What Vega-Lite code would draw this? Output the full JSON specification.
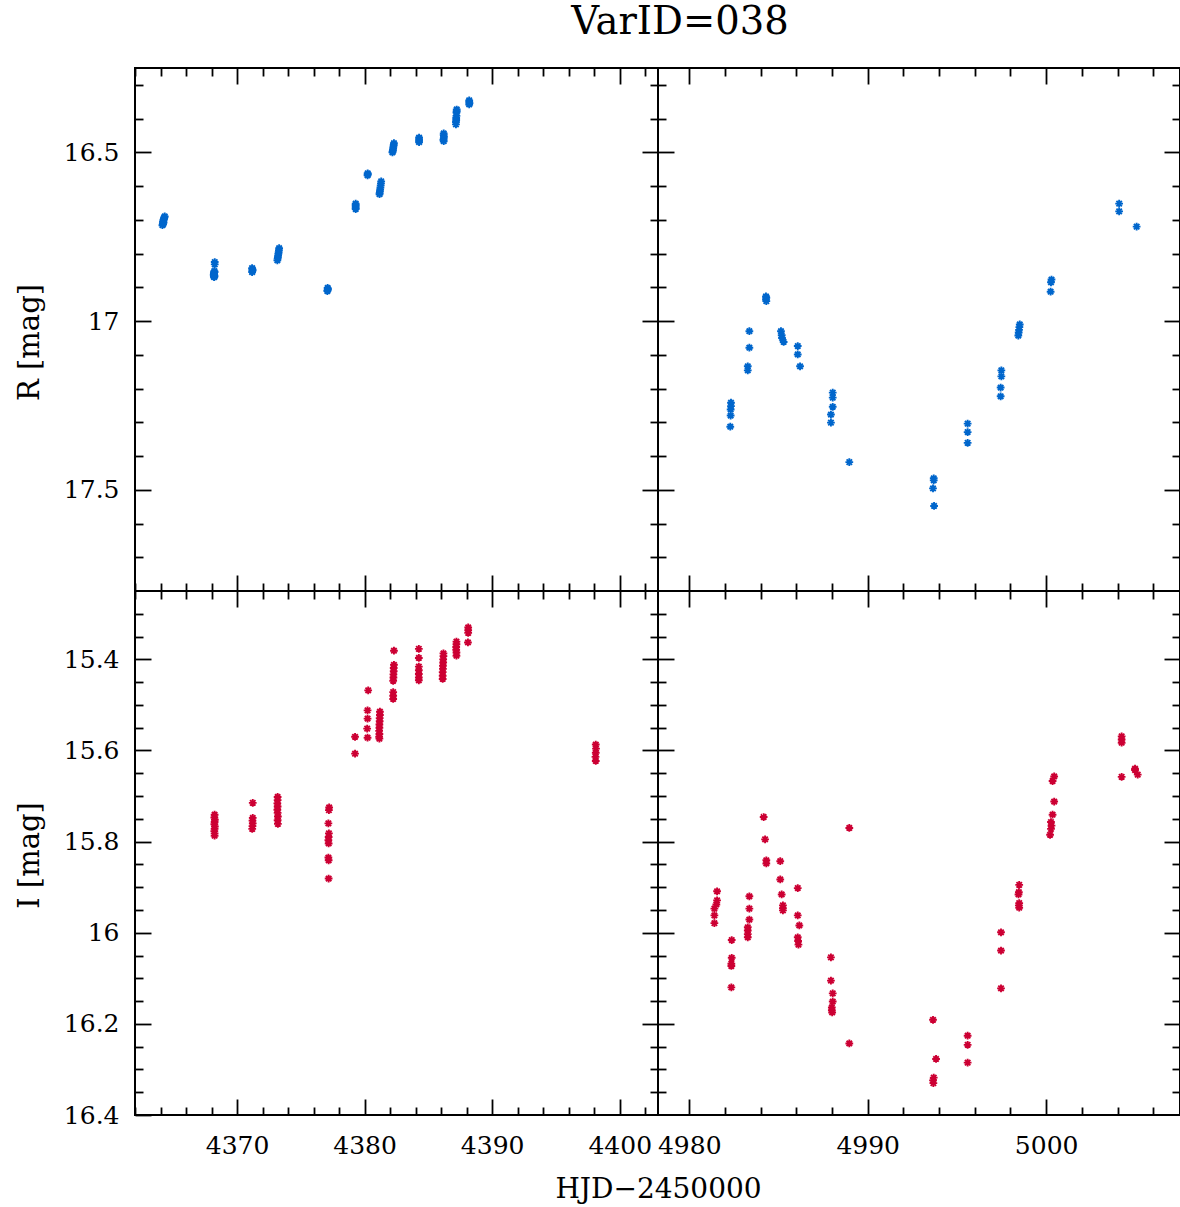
{
  "$schema": "https://vega.github.io/schema/vega-lite/v6.json",
  "background": "white",
  "padding": {"left": 14, "top": 2, "right": 0, "bottom": 5},
  "title": {"text": "VarID=038", "font": "DejaVu Serif", "fontSize": 38.5, "fontWeight": "normal", "color": "black", "anchor": "middle", "dx": 82, "offset": -6, "baseline": "alphabetic"},
  "columns": 2,
  "spacing": 0,
  "bounds": "flush",
  "datasets": {
    "r": [
      {"hjd": 4364.15, "mag": 16.716}, {"hjd": 4364.18, "mag": 16.711}, {"hjd": 4364.2, "mag": 16.706}, {"hjd": 4364.22, "mag": 16.702}, {"hjd": 4364.25, "mag": 16.699}, {"hjd": 4364.28, "mag": 16.696}, {"hjd": 4364.3, "mag": 16.693}, {"hjd": 4364.33, "mag": 16.69}, {"hjd": 4364.24, "mag": 16.708}, {"hjd": 4364.19, "mag": 16.713},
      {"hjd": 4368.25, "mag": 16.825}, {"hjd": 4368.25, "mag": 16.832}, {"hjd": 4368.22, "mag": 16.852}, {"hjd": 4368.2, "mag": 16.856}, {"hjd": 4368.18, "mag": 16.859}, {"hjd": 4368.2, "mag": 16.862}, {"hjd": 4368.22, "mag": 16.865}, {"hjd": 4368.18, "mag": 16.867}, {"hjd": 4368.2, "mag": 16.87}, {"hjd": 4368.24, "mag": 16.855}, {"hjd": 4368.17, "mag": 16.863}, {"hjd": 4368.23, "mag": 16.868},
      {"hjd": 4371.18, "mag": 16.843}, {"hjd": 4371.2, "mag": 16.846}, {"hjd": 4371.22, "mag": 16.849}, {"hjd": 4371.2, "mag": 16.852}, {"hjd": 4371.18, "mag": 16.855},
      {"hjd": 4373.3, "mag": 16.784}, {"hjd": 4373.28, "mag": 16.79}, {"hjd": 4373.26, "mag": 16.796}, {"hjd": 4373.24, "mag": 16.801}, {"hjd": 4373.22, "mag": 16.806}, {"hjd": 4373.2, "mag": 16.811}, {"hjd": 4373.18, "mag": 16.815}, {"hjd": 4373.16, "mag": 16.82},
      {"hjd": 4377.1, "mag": 16.902}, {"hjd": 4377.12, "mag": 16.905}, {"hjd": 4377.1, "mag": 16.908}, {"hjd": 4377.08, "mag": 16.911},
      {"hjd": 4379.3, "mag": 16.652}, {"hjd": 4379.3, "mag": 16.656}, {"hjd": 4379.3, "mag": 16.66}, {"hjd": 4379.3, "mag": 16.664}, {"hjd": 4379.3, "mag": 16.668},
      {"hjd": 4380.24, "mag": 16.562}, {"hjd": 4380.25, "mag": 16.565}, {"hjd": 4380.23, "mag": 16.568},
      {"hjd": 4381.3, "mag": 16.586}, {"hjd": 4381.28, "mag": 16.592}, {"hjd": 4381.26, "mag": 16.598}, {"hjd": 4381.24, "mag": 16.604}, {"hjd": 4381.22, "mag": 16.61}, {"hjd": 4381.2, "mag": 16.615}, {"hjd": 4381.18, "mag": 16.62}, {"hjd": 4381.17, "mag": 16.624},
      {"hjd": 4382.3, "mag": 16.473}, {"hjd": 4382.28, "mag": 16.478}, {"hjd": 4382.26, "mag": 16.483}, {"hjd": 4382.24, "mag": 16.488}, {"hjd": 4382.22, "mag": 16.493}, {"hjd": 4382.2, "mag": 16.497}, {"hjd": 4382.18, "mag": 16.5},
      {"hjd": 4384.27, "mag": 16.456}, {"hjd": 4384.27, "mag": 16.461}, {"hjd": 4384.27, "mag": 16.466}, {"hjd": 4384.27, "mag": 16.47},
      {"hjd": 4386.2, "mag": 16.444}, {"hjd": 4386.2, "mag": 16.449}, {"hjd": 4386.22, "mag": 16.454}, {"hjd": 4386.2, "mag": 16.459}, {"hjd": 4386.18, "mag": 16.463}, {"hjd": 4386.2, "mag": 16.467},
      {"hjd": 4387.22, "mag": 16.373}, {"hjd": 4387.22, "mag": 16.378}, {"hjd": 4387.2, "mag": 16.382}, {"hjd": 4387.2, "mag": 16.392}, {"hjd": 4387.18, "mag": 16.398}, {"hjd": 4387.18, "mag": 16.404}, {"hjd": 4387.16, "mag": 16.41}, {"hjd": 4387.16, "mag": 16.417},
      {"hjd": 4388.2, "mag": 16.346}, {"hjd": 4388.2, "mag": 16.35}, {"hjd": 4388.22, "mag": 16.354}, {"hjd": 4388.2, "mag": 16.358},
      {"hjd": 4982.34, "mag": 17.242}, {"hjd": 4982.34, "mag": 17.252}, {"hjd": 4982.32, "mag": 17.262}, {"hjd": 4982.32, "mag": 17.28}, {"hjd": 4982.3, "mag": 17.313},
      {"hjd": 4983.37, "mag": 17.03}, {"hjd": 4983.37, "mag": 17.079}, {"hjd": 4983.28, "mag": 17.134}, {"hjd": 4983.28, "mag": 17.146},
      {"hjd": 4984.3, "mag": 16.927}, {"hjd": 4984.32, "mag": 16.931}, {"hjd": 4984.3, "mag": 16.936}, {"hjd": 4984.32, "mag": 16.941},
      {"hjd": 4985.14, "mag": 17.03}, {"hjd": 4985.18, "mag": 17.042}, {"hjd": 4985.2, "mag": 17.05}, {"hjd": 4985.29, "mag": 17.062},
      {"hjd": 4986.08, "mag": 17.074}, {"hjd": 4986.08, "mag": 17.099}, {"hjd": 4986.21, "mag": 17.134},
      {"hjd": 4988.04, "mag": 17.212}, {"hjd": 4988.04, "mag": 17.227}, {"hjd": 4988.04, "mag": 17.254}, {"hjd": 4987.94, "mag": 17.277}, {"hjd": 4987.94, "mag": 17.301},
      {"hjd": 4988.97, "mag": 17.418},
      {"hjd": 4993.7, "mag": 17.466}, {"hjd": 4993.7, "mag": 17.472}, {"hjd": 4993.66, "mag": 17.496}, {"hjd": 4993.72, "mag": 17.548},
      {"hjd": 4995.6, "mag": 17.304}, {"hjd": 4995.6, "mag": 17.329}, {"hjd": 4995.6, "mag": 17.361},
      {"hjd": 4997.49, "mag": 17.146}, {"hjd": 4997.49, "mag": 17.164}, {"hjd": 4997.45, "mag": 17.197}, {"hjd": 4997.45, "mag": 17.223},
      {"hjd": 4998.52, "mag": 17.01}, {"hjd": 4998.5, "mag": 17.018}, {"hjd": 4998.48, "mag": 17.026}, {"hjd": 4998.46, "mag": 17.034}, {"hjd": 4998.44, "mag": 17.043},
      {"hjd": 5000.3, "mag": 16.877}, {"hjd": 5000.27, "mag": 16.885}, {"hjd": 5000.25, "mag": 16.913},
      {"hjd": 5004.09, "mag": 16.652}, {"hjd": 5004.09, "mag": 16.675},
      {"hjd": 5005.07, "mag": 16.72}
    ],
    "i": [
      {"hjd": 4368.24, "mag": 15.741}, {"hjd": 4368.22, "mag": 15.747}, {"hjd": 4368.26, "mag": 15.752}, {"hjd": 4368.24, "mag": 15.757}, {"hjd": 4368.22, "mag": 15.762}, {"hjd": 4368.26, "mag": 15.767}, {"hjd": 4368.24, "mag": 15.772}, {"hjd": 4368.22, "mag": 15.777}, {"hjd": 4368.24, "mag": 15.782}, {"hjd": 4368.24, "mag": 15.787},
      {"hjd": 4371.23, "mag": 15.715}, {"hjd": 4371.23, "mag": 15.748}, {"hjd": 4371.21, "mag": 15.754}, {"hjd": 4371.23, "mag": 15.76}, {"hjd": 4371.21, "mag": 15.766}, {"hjd": 4371.19, "mag": 15.772},
      {"hjd": 4373.18, "mag": 15.702}, {"hjd": 4373.18, "mag": 15.709}, {"hjd": 4373.16, "mag": 15.716}, {"hjd": 4373.18, "mag": 15.723}, {"hjd": 4373.16, "mag": 15.73}, {"hjd": 4373.18, "mag": 15.737}, {"hjd": 4373.2, "mag": 15.745}, {"hjd": 4373.18, "mag": 15.753}, {"hjd": 4373.2, "mag": 15.761},
      {"hjd": 4377.22, "mag": 15.725}, {"hjd": 4377.2, "mag": 15.731}, {"hjd": 4377.16, "mag": 15.76}, {"hjd": 4377.2, "mag": 15.782}, {"hjd": 4377.18, "mag": 15.79}, {"hjd": 4377.16, "mag": 15.797}, {"hjd": 4377.18, "mag": 15.804}, {"hjd": 4377.16, "mag": 15.835}, {"hjd": 4377.18, "mag": 15.841}, {"hjd": 4377.18, "mag": 15.881},
      {"hjd": 4379.25, "mag": 15.57}, {"hjd": 4379.25, "mag": 15.607},
      {"hjd": 4380.28, "mag": 15.468}, {"hjd": 4380.23, "mag": 15.512}, {"hjd": 4380.23, "mag": 15.53}, {"hjd": 4380.2, "mag": 15.552}, {"hjd": 4380.23, "mag": 15.572},
      {"hjd": 4381.2, "mag": 15.515}, {"hjd": 4381.2, "mag": 15.522}, {"hjd": 4381.18, "mag": 15.529}, {"hjd": 4381.18, "mag": 15.536}, {"hjd": 4381.16, "mag": 15.543}, {"hjd": 4381.16, "mag": 15.55}, {"hjd": 4381.14, "mag": 15.557}, {"hjd": 4381.16, "mag": 15.564}, {"hjd": 4381.14, "mag": 15.57}, {"hjd": 4381.16, "mag": 15.574},
      {"hjd": 4382.3, "mag": 15.381}, {"hjd": 4382.3, "mag": 15.412}, {"hjd": 4382.28, "mag": 15.419}, {"hjd": 4382.28, "mag": 15.426}, {"hjd": 4382.26, "mag": 15.433}, {"hjd": 4382.26, "mag": 15.44}, {"hjd": 4382.24, "mag": 15.447}, {"hjd": 4382.24, "mag": 15.472}, {"hjd": 4382.24, "mag": 15.48}, {"hjd": 4382.24, "mag": 15.487},
      {"hjd": 4384.25, "mag": 15.377}, {"hjd": 4384.25, "mag": 15.397}, {"hjd": 4384.25, "mag": 15.416}, {"hjd": 4384.25, "mag": 15.424}, {"hjd": 4384.25, "mag": 15.432}, {"hjd": 4384.25, "mag": 15.44}, {"hjd": 4384.25, "mag": 15.446},
      {"hjd": 4386.18, "mag": 15.387}, {"hjd": 4386.18, "mag": 15.393}, {"hjd": 4386.16, "mag": 15.4}, {"hjd": 4386.16, "mag": 15.407}, {"hjd": 4386.14, "mag": 15.414}, {"hjd": 4386.14, "mag": 15.421}, {"hjd": 4386.12, "mag": 15.428}, {"hjd": 4386.12, "mag": 15.436}, {"hjd": 4386.12, "mag": 15.443},
      {"hjd": 4387.2, "mag": 15.361}, {"hjd": 4387.2, "mag": 15.367}, {"hjd": 4387.18, "mag": 15.373}, {"hjd": 4387.18, "mag": 15.379}, {"hjd": 4387.2, "mag": 15.385}, {"hjd": 4387.2, "mag": 15.392},
      {"hjd": 4388.12, "mag": 15.33}, {"hjd": 4388.12, "mag": 15.336}, {"hjd": 4388.12, "mag": 15.342}, {"hjd": 4388.1, "mag": 15.363},
      {"hjd": 4398.12, "mag": 15.587}, {"hjd": 4398.14, "mag": 15.596}, {"hjd": 4398.12, "mag": 15.605}, {"hjd": 4398.1, "mag": 15.614}, {"hjd": 4398.12, "mag": 15.623},
      {"hjd": 4981.56, "mag": 15.909}, {"hjd": 4981.56, "mag": 15.929}, {"hjd": 4981.52, "mag": 15.938},
      {"hjd": 4981.41, "mag": 15.947}, {"hjd": 4981.41, "mag": 15.962}, {"hjd": 4981.41, "mag": 15.979},
      {"hjd": 4982.38, "mag": 16.016}, {"hjd": 4982.38, "mag": 16.055}, {"hjd": 4982.36, "mag": 16.068}, {"hjd": 4982.36, "mag": 16.073}, {"hjd": 4982.36, "mag": 16.12},
      {"hjd": 4984.17, "mag": 15.746}, {"hjd": 4984.25, "mag": 15.795}, {"hjd": 4984.32, "mag": 15.841}, {"hjd": 4984.32, "mag": 15.848},
      {"hjd": 4983.37, "mag": 15.92}, {"hjd": 4983.37, "mag": 15.947}, {"hjd": 4983.37, "mag": 15.971},
      {"hjd": 4983.28, "mag": 15.988}, {"hjd": 4983.28, "mag": 15.995}, {"hjd": 4983.28, "mag": 16.003}, {"hjd": 4983.28, "mag": 16.01},
      {"hjd": 4985.1, "mag": 15.843}, {"hjd": 4985.1, "mag": 15.883}, {"hjd": 4985.18, "mag": 15.916}, {"hjd": 4985.25, "mag": 15.94}, {"hjd": 4985.25, "mag": 15.946}, {"hjd": 4985.25, "mag": 15.951},
      {"hjd": 4986.08, "mag": 15.902}, {"hjd": 4986.08, "mag": 15.962}, {"hjd": 4986.17, "mag": 15.984}, {"hjd": 4986.08, "mag": 16.01}, {"hjd": 4986.1, "mag": 16.018}, {"hjd": 4986.12, "mag": 16.026},
      {"hjd": 4987.94, "mag": 16.054}, {"hjd": 4987.94, "mag": 16.105}, {"hjd": 4988.04, "mag": 16.133}, {"hjd": 4988.04, "mag": 16.151}, {"hjd": 4987.99, "mag": 16.164}, {"hjd": 4987.99, "mag": 16.17}, {"hjd": 4988.01, "mag": 16.175},
      {"hjd": 4988.97, "mag": 15.77}, {"hjd": 4988.97, "mag": 16.243},
      {"hjd": 4993.66, "mag": 16.191}, {"hjd": 4993.83, "mag": 16.277}, {"hjd": 4993.7, "mag": 16.318}, {"hjd": 4993.66, "mag": 16.324}, {"hjd": 4993.68, "mag": 16.33},
      {"hjd": 4995.6, "mag": 16.226}, {"hjd": 4995.6, "mag": 16.246}, {"hjd": 4995.6, "mag": 16.285},
      {"hjd": 4997.47, "mag": 15.999}, {"hjd": 4997.47, "mag": 16.039}, {"hjd": 4997.47, "mag": 16.122},
      {"hjd": 4998.49, "mag": 15.895}, {"hjd": 4998.47, "mag": 15.911}, {"hjd": 4998.45, "mag": 15.916}, {"hjd": 4998.49, "mag": 15.935}, {"hjd": 4998.47, "mag": 15.94}, {"hjd": 4998.49, "mag": 15.945},
      {"hjd": 5000.45, "mag": 15.657}, {"hjd": 5000.36, "mag": 15.667}, {"hjd": 5000.45, "mag": 15.712}, {"hjd": 5000.36, "mag": 15.741}, {"hjd": 5000.27, "mag": 15.757}, {"hjd": 5000.3, "mag": 15.765}, {"hjd": 5000.27, "mag": 15.772}, {"hjd": 5000.22, "mag": 15.785},
      {"hjd": 5004.23, "mag": 15.569}, {"hjd": 5004.23, "mag": 15.576}, {"hjd": 5004.23, "mag": 15.583}, {"hjd": 5004.23, "mag": 15.658},
      {"hjd": 5004.98, "mag": 15.64}, {"hjd": 5004.98, "mag": 15.643}, {"hjd": 5005.13, "mag": 15.653}
    ]
  },
  "concat": [
    {
      "width": 523, "height": 523,
      "data": {"name": "r"},
      "transform": [{"filter": "datum.hjd < 4500"}],
      "layer": [
        {
          "mark": {"type": "point", "shape": "M-1,0L1,0M0,-1L0,1M-0.7,-0.7L0.7,0.7M-0.7,0.7L0.7,-0.7", "filled": false, "size": 60, "strokeWidth": 1.9, "color": "#0066cc", "opacity": 1},
          "encoding": {
            "x": {"field": "hjd", "type": "quantitative", "scale": {"domain": [4362, 4403], "nice": false, "zero": false},
              "axis": {"orient": "bottom", "values": [4362, 4364, 4366, 4368, 4370, 4372, 4374, 4376, 4378, 4380, 4382, 4384, 4386, 4388, 4390, 4392, 4394, 4396, 4398, 4400, 4402], "labels": false, "title": null,
                "tickSize": {"condition": {"test": "datum.value % 10 === 0", "value": -16}, "value": -8}}},
            "y": {"field": "mag", "type": "quantitative", "scale": {"domain": [16.25, 17.8], "reverse": true, "nice": false, "zero": false},
              "axis": {"orient": "left", "values": [16.3, 16.4, 16.5, 16.6, 16.7, 16.8, 16.9, 17, 17.1, 17.2, 17.3, 17.4, 17.5, 17.6, 17.7], "format": ".1~f",
                "labelExpr": "abs(datum.value * 2 - round(datum.value * 2)) < 0.001 ? datum.label : ''", "labelPadding": 32,
                "tickSize": {"condition": {"test": "abs(datum.value * 2 - round(datum.value * 2)) < 0.001", "value": -16}, "value": -8},
                "title": "R [mag]", "titleFontSize": 29, "titleAngle": -90, "titleX": -97, "titleY": 274, "titleAlign": "center", "titleBaseline": "alphabetic"}}
          }
        },
        {
          "mark": {"type": "point", "opacity": 0},
          "encoding": {
            "x": {"field": "hjd", "type": "quantitative", "scale": {"domain": [4362, 4403], "nice": false, "zero": false},
              "axis": {"orient": "top", "values": [4362, 4364, 4366, 4368, 4370, 4372, 4374, 4376, 4378, 4380, 4382, 4384, 4386, 4388, 4390, 4392, 4394, 4396, 4398, 4400, 4402], "labels": false, "title": null,
                "tickSize": {"condition": {"test": "datum.value % 10 === 0", "value": -16}, "value": -8}}},
            "y": {"field": "mag", "type": "quantitative", "scale": {"domain": [16.25, 17.8], "reverse": true, "nice": false, "zero": false},
              "axis": {"orient": "right", "values": [16.3, 16.4, 16.5, 16.6, 16.7, 16.8, 16.9, 17, 17.1, 17.2, 17.3, 17.4, 17.5, 17.6, 17.7], "labels": false, "title": null,
                "tickSize": {"condition": {"test": "abs(datum.value * 2 - round(datum.value * 2)) < 0.001", "value": -16}, "value": -8}}}
          }
        }
      ],
      "resolve": {"axis": {"x": "independent", "y": "independent"}}
    },
    {
      "width": 522, "height": 523,
      "data": {"name": "r"},
      "transform": [{"filter": "datum.hjd > 4900"}],
      "layer": [
        {
          "mark": {"type": "point", "shape": "M-1,0L1,0M0,-1L0,1M-0.7,-0.7L0.7,0.7M-0.7,0.7L0.7,-0.7", "filled": false, "size": 60, "strokeWidth": 1.9, "color": "#0066cc", "opacity": 1},
          "encoding": {
            "x": {"field": "hjd", "type": "quantitative", "scale": {"domain": [4978.25, 5007.5], "nice": false, "zero": false},
              "axis": {"orient": "bottom", "values": [4980, 4982, 4984, 4986, 4988, 4990, 4992, 4994, 4996, 4998, 5000, 5002, 5004, 5006], "labels": false, "title": null,
                "tickSize": {"condition": {"test": "datum.value % 10 === 0", "value": -16}, "value": -8}}},
            "y": {"field": "mag", "type": "quantitative", "scale": {"domain": [16.25, 17.8], "reverse": true, "nice": false, "zero": false},
              "axis": {"orient": "left", "values": [16.3, 16.4, 16.5, 16.6, 16.7, 16.8, 16.9, 17, 17.1, 17.2, 17.3, 17.4, 17.5, 17.6, 17.7], "labels": false, "title": null,
                "tickSize": {"condition": {"test": "abs(datum.value * 2 - round(datum.value * 2)) < 0.001", "value": -16}, "value": -8}}}
          }
        },
        {
          "mark": {"type": "point", "opacity": 0},
          "encoding": {
            "x": {"field": "hjd", "type": "quantitative", "scale": {"domain": [4978.25, 5007.5], "nice": false, "zero": false},
              "axis": {"orient": "top", "values": [4980, 4982, 4984, 4986, 4988, 4990, 4992, 4994, 4996, 4998, 5000, 5002, 5004, 5006], "labels": false, "title": null,
                "tickSize": {"condition": {"test": "datum.value % 10 === 0", "value": -16}, "value": -8}}},
            "y": {"field": "mag", "type": "quantitative", "scale": {"domain": [16.25, 17.8], "reverse": true, "nice": false, "zero": false},
              "axis": {"orient": "right", "values": [16.3, 16.4, 16.5, 16.6, 16.7, 16.8, 16.9, 17, 17.1, 17.2, 17.3, 17.4, 17.5, 17.6, 17.7], "labels": false, "title": null,
                "tickSize": {"condition": {"test": "abs(datum.value * 2 - round(datum.value * 2)) < 0.001", "value": -16}, "value": -8}}}
          }
        }
      ],
      "resolve": {"axis": {"x": "independent", "y": "independent"}}
    },
    {
      "width": 523, "height": 524,
      "data": {"name": "i"},
      "transform": [{"filter": "datum.hjd < 4500"}],
      "layer": [
        {
          "mark": {"type": "point", "shape": "M-1,0L1,0M0,-1L0,1M-0.7,-0.7L0.7,0.7M-0.7,0.7L0.7,-0.7", "filled": false, "size": 60, "strokeWidth": 1.9, "color": "#cc0033", "opacity": 1},
          "encoding": {
            "x": {"field": "hjd", "type": "quantitative", "scale": {"domain": [4362, 4403], "nice": false, "zero": false},
              "axis": {"orient": "bottom", "values": [4362, 4364, 4366, 4368, 4370, 4372, 4374, 4376, 4378, 4380, 4382, 4384, 4386, 4388, 4390, 4392, 4394, 4396, 4398, 4400, 4402], "format": "d",
                "labelExpr": "datum.value % 10 === 0 ? datum.label : ''", "labelPadding": 34,
                "tickSize": {"condition": {"test": "datum.value % 10 === 0", "value": -16}, "value": -8},
                "title": "HJD−2450000", "titleX": 523, "titleY": 82, "titleAlign": "center", "titleBaseline": "alphabetic"}},
            "y": {"field": "mag", "type": "quantitative", "scale": {"domain": [15.25, 16.4], "reverse": true, "nice": false, "zero": false},
              "axis": {"orient": "left", "values": [15.3, 15.35, 15.4, 15.45, 15.5, 15.55, 15.6, 15.65, 15.7, 15.75, 15.8, 15.85, 15.9, 15.95, 16, 16.05, 16.1, 16.15, 16.2, 16.25, 16.3, 16.35, 16.4], "format": ".1~f",
                "labelExpr": "abs(datum.value * 5 - round(datum.value * 5)) < 0.001 ? datum.label : ''", "labelPadding": 32,
                "tickSize": {"condition": {"test": "abs(datum.value * 5 - round(datum.value * 5)) < 0.001", "value": -16}, "value": -8},
                "title": "I [mag]", "titleFontSize": 29, "titleAngle": -90, "titleX": -97, "titleY": 264, "titleAlign": "center", "titleBaseline": "alphabetic"}}
          }
        },
        {
          "mark": {"type": "point", "opacity": 0},
          "encoding": {
            "x": {"field": "hjd", "type": "quantitative", "scale": {"domain": [4362, 4403], "nice": false, "zero": false},
              "axis": {"orient": "top", "values": [4362, 4364, 4366, 4368, 4370, 4372, 4374, 4376, 4378, 4380, 4382, 4384, 4386, 4388, 4390, 4392, 4394, 4396, 4398, 4400, 4402], "labels": false, "title": null,
                "tickSize": {"condition": {"test": "datum.value % 10 === 0", "value": -16}, "value": -8}}},
            "y": {"field": "mag", "type": "quantitative", "scale": {"domain": [15.25, 16.4], "reverse": true, "nice": false, "zero": false},
              "axis": {"orient": "right", "values": [15.3, 15.35, 15.4, 15.45, 15.5, 15.55, 15.6, 15.65, 15.7, 15.75, 15.8, 15.85, 15.9, 15.95, 16, 16.05, 16.1, 16.15, 16.2, 16.25, 16.3, 16.35], "labels": false, "title": null,
                "tickSize": {"condition": {"test": "abs(datum.value * 5 - round(datum.value * 5)) < 0.001", "value": -16}, "value": -8}}}
          }
        }
      ],
      "resolve": {"axis": {"x": "independent", "y": "independent"}}
    },
    {
      "width": 522, "height": 524,
      "data": {"name": "i"},
      "transform": [{"filter": "datum.hjd > 4900"}],
      "layer": [
        {
          "mark": {"type": "point", "shape": "M-1,0L1,0M0,-1L0,1M-0.7,-0.7L0.7,0.7M-0.7,0.7L0.7,-0.7", "filled": false, "size": 60, "strokeWidth": 1.9, "color": "#cc0033", "opacity": 1},
          "encoding": {
            "x": {"field": "hjd", "type": "quantitative", "scale": {"domain": [4978.25, 5007.5], "nice": false, "zero": false},
              "axis": {"orient": "bottom", "values": [4980, 4982, 4984, 4986, 4988, 4990, 4992, 4994, 4996, 4998, 5000, 5002, 5004, 5006], "format": "d",
                "labelExpr": "datum.value % 10 === 0 ? datum.label : ''", "labelPadding": 34,
                "tickSize": {"condition": {"test": "datum.value % 10 === 0", "value": -16}, "value": -8}, "title": null}},
            "y": {"field": "mag", "type": "quantitative", "scale": {"domain": [15.25, 16.4], "reverse": true, "nice": false, "zero": false},
              "axis": {"orient": "left", "values": [15.3, 15.35, 15.4, 15.45, 15.5, 15.55, 15.6, 15.65, 15.7, 15.75, 15.8, 15.85, 15.9, 15.95, 16, 16.05, 16.1, 16.15, 16.2, 16.25, 16.3, 16.35], "labels": false, "title": null,
                "tickSize": {"condition": {"test": "abs(datum.value * 5 - round(datum.value * 5)) < 0.001", "value": -16}, "value": -8}}}
          }
        },
        {
          "mark": {"type": "point", "opacity": 0},
          "encoding": {
            "x": {"field": "hjd", "type": "quantitative", "scale": {"domain": [4978.25, 5007.5], "nice": false, "zero": false},
              "axis": {"orient": "top", "values": [4980, 4982, 4984, 4986, 4988, 4990, 4992, 4994, 4996, 4998, 5000, 5002, 5004, 5006], "labels": false, "title": null,
                "tickSize": {"condition": {"test": "datum.value % 10 === 0", "value": -16}, "value": -8}}},
            "y": {"field": "mag", "type": "quantitative", "scale": {"domain": [15.25, 16.4], "reverse": true, "nice": false, "zero": false},
              "axis": {"orient": "right", "values": [15.3, 15.35, 15.4, 15.45, 15.5, 15.55, 15.6, 15.65, 15.7, 15.75, 15.8, 15.85, 15.9, 15.95, 16, 16.05, 16.1, 16.15, 16.2, 16.25, 16.3, 16.35], "labels": false, "title": null,
                "tickSize": {"condition": {"test": "abs(datum.value * 5 - round(datum.value * 5)) < 0.001", "value": -16}, "value": -8}}}
          }
        }
      ],
      "resolve": {"axis": {"x": "independent", "y": "independent"}}
    }
  ],
  "config": {
    "font": "DejaVu Serif",
    "view": {"stroke": "black", "strokeWidth": 2},
    "axis": {"domain": false, "grid": false, "ticks": true, "tickColor": "black", "tickWidth": 1.8,
      "labelFont": "DejaVu Serif", "labelFontSize": 25, "labelColor": "black", "labelFlush": false, "labelOverlap": false, "labelBound": false,
      "titleFont": "DejaVu Serif", "titleFontSize": 28, "titleFontWeight": "normal", "titleColor": "black"}
  }
}
